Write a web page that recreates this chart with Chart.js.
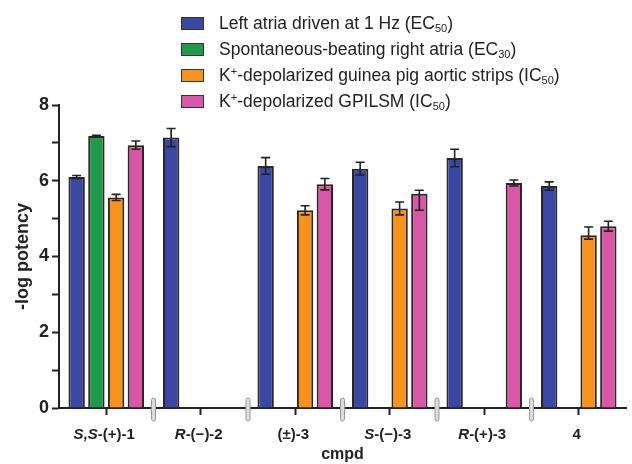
<!DOCTYPE html>
<html>
<head>
<meta charset="utf-8">
<script src="https://cdn.jsdelivr.net/npm/chart.js@4.4.1/dist/chart.umd.min.js"></script>
<style>
  html, body { margin: 0; padding: 0; background: #fff; }
  #wrap { position: relative; width: 632px; height: 464px; }
  #legend {
    position: absolute; left: 181px; top: 10px;
    font-family: "Liberation Sans", Arial, sans-serif; font-size: 17.5px; color: #222;
  }
  .row { height: 26px; display: flex; align-items: center; white-space: nowrap; }
  .box { width: 23px; height: 13px; border: 1px solid #333; box-sizing: border-box; margin-right: 15px; flex: none; }
  sub { font-size: 11px; vertical-align: -3px; line-height: 0; }
  sup { font-size: 11px; vertical-align: 6px; line-height: 0; }
</style>
</head>
<body>
<div id="wrap">
  <canvas id="chart" width="632" height="464"></canvas>
  <div id="legend"></div>
</div>
<script>
// categories (*...* = italic part)
const categories = ['*S,S*-(+)-1', '*R*-(\u2212)-2', '(\u00b1)-3', '*S*-(\u2212)-3', '*R*-(+)-3', '4'];

const seriesNames = [
    'Left atria driven at 1 Hz (EC<sub>50</sub>)',
    'Spontaneous-beating right atria (EC<sub>30</sub>)',
    'K<sup>+</sup>-depolarized guinea pig aortic strips (IC<sub>50</sub>)',
    'K<sup>+</sup>-depolarized GPILSM (IC<sub>50</sub>)'
];
const seriesColors = ['#3b48a3', '#1f9a4b', '#f6921e', '#d957a7'];

// -log potency values
const leftAtria  = [6.10, 7.14, 6.39, 6.32, 6.60, 5.86];
const rightAtria = [7.18, null, null, null, null, null];
const aortic     = [5.56, null, 5.22, 5.27, null, 4.56];
const gpilsm     = [6.94, null, 5.91, 5.66, 5.94, 4.80];

// error bars: number = symmetric, [below, above] otherwise
const leftAtriaErr  = [0.04, 0.24, 0.22, 0.17, 0.23, 0.11];
const rightAtriaErr = [0.02, null, null, null, null, null];
const aorticErr     = [0.08, null, 0.12, 0.17, null, [0.10, 0.22]];
const gpilsmErr     = [0.11, null, 0.15, [0.44, 0.09], 0.08, 0.13];

const yTicks = [0, 2, 4, 6, 8];

const seriesValues = [leftAtria, rightAtria, aortic, gpilsm];
const seriesErrors = [leftAtriaErr, rightAtriaErr, aorticErr, gpilsmErr];

// HTML legend (needs sub/superscripts)
const legendEl = document.getElementById('legend');
seriesNames.forEach(function(name, i) {
    const row = document.createElement('div');
    row.className = 'row';
    row.innerHTML = '<span class="box" style="background:' + seriesColors[i] + '"></span><span>' + name + '</span>';
    legendEl.appendChild(row);
});

const FONT = '"Liberation Sans", Arial, sans-serif';
const INK = '#222';

// error bars, x labels and the little gap markers between groups
const extrasPlugin = {
    id: 'extras',
    afterDatasetsDraw: function(chart) {
        const ctx = chart.ctx;
        const y = chart.scales.y;
        ctx.save();
        ctx.strokeStyle = INK;
        ctx.lineWidth = 1.6;
        chart.data.datasets.forEach(function(ds, di) {
            const meta = chart.getDatasetMeta(di);
            meta.data.forEach(function(bar, i) {
                const v = ds.data[i];
                const e = seriesErrors[di][i];
                if (v == null || e == null) return;
                const lo = Array.isArray(e) ? e[0] : e;
                const hi = Array.isArray(e) ? e[1] : e;
                const yt = y.getPixelForValue(v + hi);
                const yb = y.getPixelForValue(v - lo);
                const x = bar.x;
                ctx.beginPath();
                ctx.moveTo(x, yt); ctx.lineTo(x, yb);
                ctx.moveTo(x - 4.5, yt); ctx.lineTo(x + 4.5, yt);
                ctx.moveTo(x - 4.5, yb); ctx.lineTo(x + 4.5, yb);
                ctx.stroke();
            });
        });
        ctx.restore();
    },
    afterDraw: function(chart) {
        const ctx = chart.ctx;
        const xs = chart.scales.x;
        const base = chart.chartArea.bottom;
        ctx.save();
        // gap markers
        for (let i = 0; i < categories.length - 1; i++) {
            const xm = (xs.getPixelForTick(i) + xs.getPixelForTick(i + 1)) / 2;
            ctx.beginPath();
            ctx.roundRect(xm - 2, base - 10, 4, 23, 2);
            ctx.fillStyle = '#dcdcdc';
            ctx.fill();
            ctx.strokeStyle = '#9a9a9a';
            ctx.lineWidth = 1;
            ctx.stroke();
        }
        // category labels with italic parts
        ctx.fillStyle = INK;
        ctx.textBaseline = 'alphabetic';
        ctx.textAlign = 'left';
        categories.forEach(function(lab, i) {
            const parts = lab.split('*').map(function(t, k) {
                return { text: t, font: (k % 2 ? 'italic ' : '') + 'bold 15px ' + FONT };
            }).filter(function(p) { return p.text.length; });
            let w = 0;
            parts.forEach(function(p) { ctx.font = p.font; w += ctx.measureText(p.text).width; });
            let x = xs.getPixelForTick(i) - w / 2 - 2;
            parts.forEach(function(p) {
                ctx.font = p.font;
                ctx.fillText(p.text, x, base + 31);
                x += ctx.measureText(p.text).width;
            });
        });
        ctx.restore();
    }
};

const datasets = seriesValues.map(function(vals, i) {
    return {
        label: seriesNames[i],
        data: vals,
        backgroundColor: seriesColors[i],
        borderColor: '#2e2622',
        borderWidth: 2,
        barPercentage: 0.83,
        categoryPercentage: 0.835
    };
});

new Chart(document.getElementById('chart'), {
    type: 'bar',
    data: { labels: categories, datasets: datasets },
    plugins: [extrasPlugin],
    options: {
        responsive: false,
        animation: false,
        layout: { padding: { top: 105, right: 6, left: 0, bottom: 0 } },
        plugins: { legend: { display: false }, tooltip: { enabled: false } },
        scales: {
            x: {
                afterFit: function(scale) { scale.height = 56; },
                grid: { offset: false, drawOnChartArea: false, drawTicks: true, tickLength: 7, tickWidth: 2, tickColor: INK },
                border: { color: INK, width: 2 },
                ticks: { display: false },
                title: { display: true, text: 'cmpd', color: INK, font: { family: FONT, size: 16, weight: 'bold' }, padding: { top: 0, bottom: 0 } }
            },
            y: {
                min: 0,
                max: 8,
                afterFit: function(scale) { scale.width = 59; },
                grid: { drawOnChartArea: false, tickLength: 7, tickWidth: 2, tickColor: INK },
                border: { color: INK, width: 2 },
                ticks: {
                    stepSize: 1,
                    padding: 3,
                    color: INK,
                    font: { family: FONT, size: 18, weight: 'bold' },
                    callback: function(v) { return yTicks.includes(v) ? v : ''; }
                },
                title: { display: true, text: '-log potency', color: INK, font: { family: FONT, size: 18, weight: 'bold' }, padding: { top: 12, bottom: 0 } }
            }
        }
    }
});
</script>
</body>
</html>
